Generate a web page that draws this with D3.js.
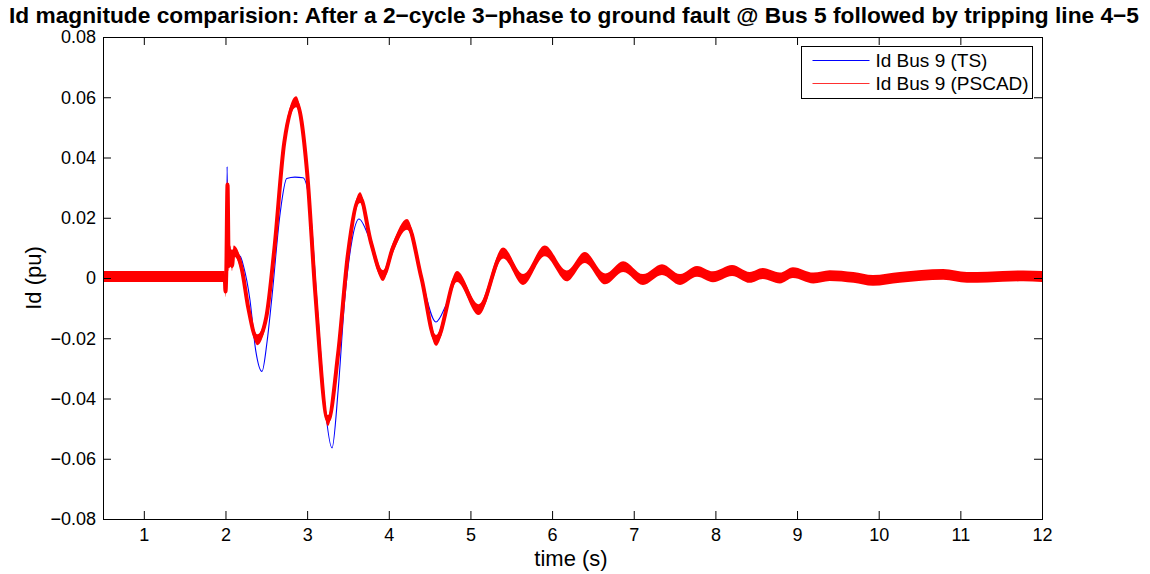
<!DOCTYPE html>
<html>
<head>
<meta charset="utf-8">
<script src="https://cdn.jsdelivr.net/npm/d3@7"></script>
<style>
  html, body { margin: 0; padding: 0; background: #fff; }
  svg { display: block; font-family: "Liberation Sans", Arial, sans-serif; }
</style>
</head>
<body>
<svg id="chart" width="1150" height="574"></svg>
<script>
// Id at Bus 9: transient-stability (TS) simulation, [time s, Id pu]
const tsSeries = [
  [0.5, 0], [2.0, 0], [2.012, 0.0], [2.02, 0.037], [2.03, 0.012], [2.05, 0.0085],
  [2.1, 0.008], [2.18, 0.0072], [2.22, 0.004], [2.3, -0.0073], [2.37, -0.024],
  [2.447, -0.031], [2.51, -0.021], [2.57, -0.006], [2.67, 0.0216], [2.75, 0.033],
  [2.85, 0.0335], [2.95, 0.0333], [3.035, 0.0236], [3.13, -0.0116], [3.22, -0.0428],
  [3.305, -0.0564], [3.38, -0.0372], [3.46, -0.0073], [3.55, 0.0126], [3.635, 0.0196],
  [3.77, 0.0126], [3.93, 0.0008], [4.05, 0.01], [4.223, 0.0178], [4.4, 0.0],
  [4.578, -0.0146], [4.7, -0.009], [4.835, 0.0005], [5.1, -0.0105], [5.4, 0.0083],
  [5.644, -0.0005], [5.91, 0.009], [6.18, 0.0007], [6.4, 0.0068], [6.65, -0.0003],
  [6.87, 0.0038], [7.113, -0.0005], [7.346, 0.0028], [7.567, -0.0005], [7.775, 0.0022],
  [7.97, 0.0004], [8.204, 0.0025], [8.42, 0.0002], [8.58, 0.0015], [8.79, 0.0],
  [8.95, 0.0018], [9.2, 0.0], [9.4, 0.0008], [9.69, 0.0002], [9.93, -0.0008],
  [10.26, 0.0002], [10.79, 0.0012], [11.08, 0.0002], [11.33, 0.0003], [11.77, 0.0007],
  [12, 0.0005]
];

// Id at Bus 9: PSCAD electromagnetic-transient simulation (mid-line of the ripple band)
const pscadSeries = [
  [0.5, 0.0005], [1.99, 0.0005], [2.0, -0.0045], [2.01, 0.002], [2.025, 0.031],
  [2.04, 0.004], [2.06, 0.009], [2.08, 0.004], [2.1, 0.009], [2.15, 0.0075],
  [2.2, 0.003], [2.28, -0.01], [2.39, -0.0205], [2.5, -0.013], [2.6, 0.01],
  [2.72, 0.045], [2.864, 0.0585], [3.0, 0.035], [3.1, -0.005], [3.256, -0.0473],
  [3.38, -0.025], [3.5, 0.008], [3.648, 0.0267], [3.78, 0.012], [3.93, 0.0008],
  [4.05, 0.01], [4.223, 0.0178], [4.4, 0.0], [4.578, -0.0207], [4.835, 0.0005],
  [5.1, -0.0105], [5.4, 0.0083], [5.644, -0.0005], [5.91, 0.009], [6.18, 0.0007],
  [6.4, 0.0068], [6.65, -0.0003], [6.87, 0.0038], [7.113, -0.0005], [7.346, 0.0028],
  [7.567, -0.0005], [7.775, 0.0022], [7.97, 0.0004], [8.204, 0.0025], [8.42, 0.0002],
  [8.58, 0.0015], [8.79, 0.0], [8.95, 0.0018], [9.2, 0.0], [9.4, 0.0008],
  [9.69, 0.0002], [9.93, -0.0008], [10.26, 0.0002], [10.79, 0.0012], [11.08, 0.0002],
  [11.33, 0.0003], [11.77, 0.0007], [12, 0.0005]
];

// half-height of the high-frequency ripple band on the PSCAD trace (pu)
const pscadRipple = 0.0018;

const xTicks = [1, 2, 3, 4, 5, 6, 7, 8, 9, 10, 11, 12];
const yTicks = [-0.08, -0.06, -0.04, -0.02, 0, 0.02, 0.04, 0.06, 0.08];
const legendLabels = ["Id Bus 9 (TS)", "Id Bus 9 (PSCAD)"];
const titleText = "Id magnitude comparision: After a 2\u2212cycle 3\u2212phase to ground fault @ Bus 5 followed by tripping line 4\u22125";

const margin = { left: 103, right: 108, top: 37, bottom: 55 };
const W = 1150, H = 574;
const svg = d3.select("#chart");

const x = d3.scaleLinear().domain([0.5, 12]).range([margin.left, W - margin.right]);
const y = d3.scaleLinear().domain([-0.08, 0.08]).range([H - margin.bottom, margin.top]);

const fmtY = v => (v === 0 ? "0" : d3.format(".2f")(v).replace("-", "\u2212"));

const plot = svg.append("g");
svg.append("clipPath").attr("id", "plotclip").append("rect")
  .attr("x", x.range()[0]).attr("y", y.range()[1])
  .attr("width", x.range()[1] - x.range()[0])
  .attr("height", y.range()[0] - y.range()[1]);
plot.attr("clip-path", "url(#plotclip)");

// TS trace
const tsLine = d3.line().x(d => x(d[0])).y(d => y(d[1])).curve(d3.curveMonotoneX);
plot.append("path")
  .attr("d", tsLine(tsSeries))
  .attr("fill", "none").attr("stroke", "#0000ff").attr("stroke-width", 1.1);

// PSCAD trace: ripple band plus its mid-line
const pscadArea = d3.area()
  .x(d => x(d[0]))
  .y0(d => y(d[1] - pscadRipple))
  .y1(d => y(d[1] + pscadRipple))
  .curve(d3.curveMonotoneX);
plot.append("path")
  .attr("d", pscadArea(pscadSeries))
  .attr("fill", "#ff0000").attr("stroke", "none");
const pscadLine = d3.line().x(d => x(d[0])).y(d => y(d[1])).curve(d3.curveMonotoneX);
plot.append("path")
  .attr("d", pscadLine(pscadSeries))
  .attr("fill", "none").attr("stroke", "#ff0000").attr("stroke-width", 4)
  .attr("stroke-linejoin", "round");

// axes (ticks point inward, mirrored on top and right)
const tickLen = 8;
const axisStyle = g => {
  g.select(".domain").remove();
  g.selectAll(".tick line").attr("stroke", "#000").attr("stroke-width", 1);
  g.selectAll(".tick text").attr("fill", "#000").attr("font-size", 18)
    .attr("font-family", "'Liberation Sans', Arial, sans-serif");
};

svg.append("g")
  .attr("transform", `translate(0,${y.range()[0]})`)
  .call(d3.axisBottom(x).tickValues(xTicks).tickSizeInner(-tickLen).tickSizeOuter(0).tickPadding(9).tickFormat(d3.format("d")))
  .call(axisStyle);
svg.append("g")
  .attr("transform", `translate(0,${y.range()[1]})`)
  .call(d3.axisTop(x).tickValues(xTicks).tickSizeInner(-tickLen).tickSizeOuter(0).tickFormat(""))
  .call(axisStyle);
svg.append("g")
  .attr("transform", `translate(${x.range()[0]},0)`)
  .call(d3.axisLeft(y).tickValues(yTicks).tickSizeInner(-tickLen).tickSizeOuter(0).tickPadding(7).tickFormat(fmtY))
  .call(axisStyle);
svg.append("g")
  .attr("transform", `translate(${x.range()[1]},0)`)
  .call(d3.axisRight(y).tickValues(yTicks).tickSizeInner(-tickLen).tickSizeOuter(0).tickFormat(""))
  .call(axisStyle);

// frame
svg.append("rect")
  .attr("x", x.range()[0] + 0.5).attr("y", y.range()[1] + 0.5)
  .attr("width", x.range()[1] - x.range()[0])
  .attr("height", y.range()[0] - y.range()[1])
  .attr("fill", "none").attr("stroke", "#000").attr("stroke-width", 1);

// title and axis labels
svg.append("text")
  .attr("x", 574).attr("y", 23)
  .attr("text-anchor", "middle").attr("font-size", 22.5).attr("font-weight", "bold")
  .attr("textLength", 1130).attr("lengthAdjust", "spacingAndGlyphs")
  .attr("fill", "#000").text(titleText);
svg.append("text")
  .attr("x", 571).attr("y", 566)
  .attr("text-anchor", "middle").attr("font-size", 22).attr("fill", "#000")
  .text("time (s)");
svg.append("text")
  .attr("transform", `translate(41,${(y.range()[0] + y.range()[1]) / 2}) rotate(-90)`)
  .attr("text-anchor", "middle").attr("font-size", 22).attr("fill", "#000")
  .text("Id (pu)");

// legend
const lg = svg.append("g").attr("transform", "translate(801.5,46.5)");
lg.append("rect").attr("width", 231).attr("height", 52)
  .attr("fill", "#fff").attr("stroke", "#000").attr("stroke-width", 1);
const legendColors = ["#0000ff", "#ff3030"];
legendLabels.forEach((label, i) => {
  const cy = 14 + i * 23;
  lg.append("line").attr("x1", 11).attr("x2", 68).attr("y1", cy).attr("y2", cy)
    .attr("stroke", legendColors[i]).attr("stroke-width", 1.2);
  lg.append("text").attr("x", 74).attr("y", cy + 6.5).attr("font-size", 19)
    .attr("fill", "#000").text(label);
});
</script>
</body>
</html>
